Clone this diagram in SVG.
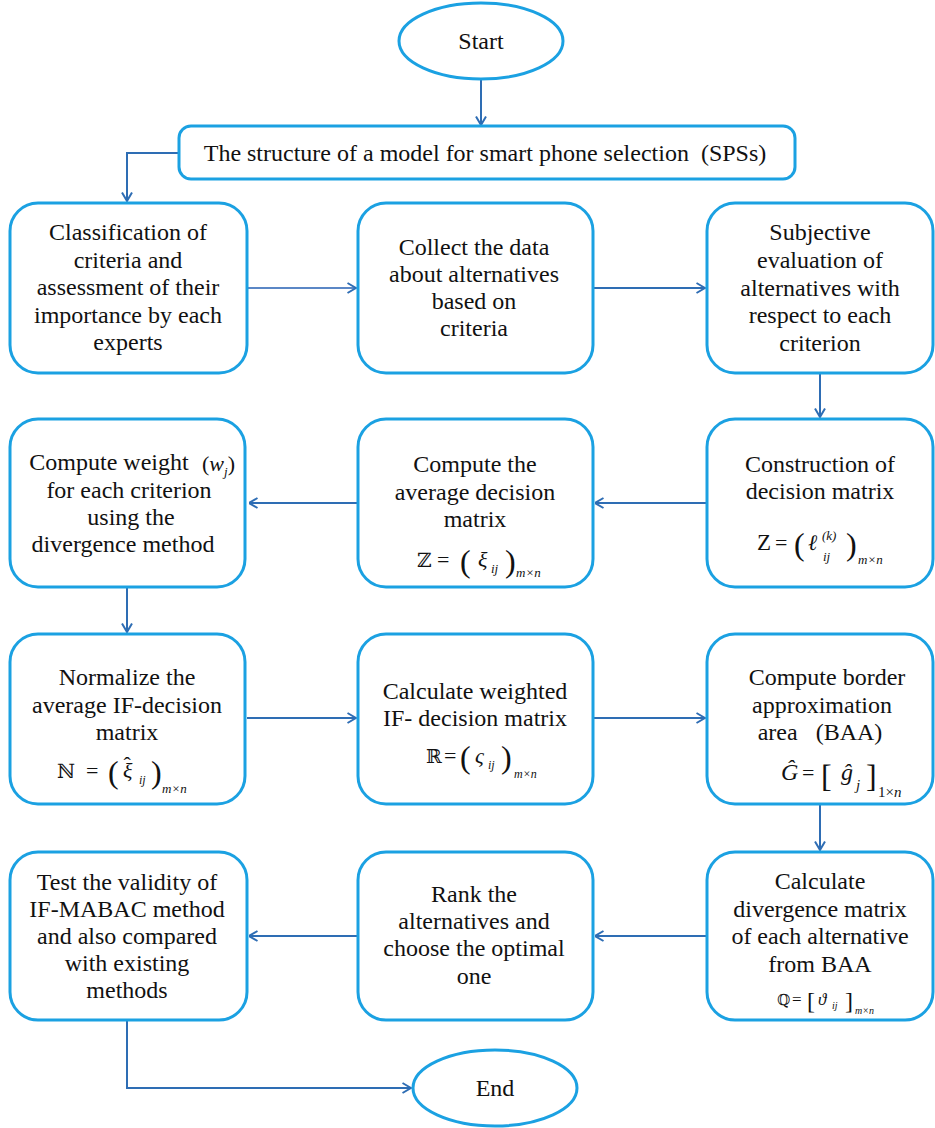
<svg xmlns="http://www.w3.org/2000/svg" width="935" height="1128" viewBox="0 0 935 1128">
<style>
.box{fill:#fff;stroke:#1ba1e2;stroke-width:3}
.t{font-family:'Liberation Serif','Times New Roman',serif;font-size:24px;fill:#111;text-anchor:middle}
.m{font-family:'Liberation Serif','Times New Roman',serif;font-size:22px;fill:#111}
.ds{font-family:'DejaVu Serif','Liberation Serif',serif;font-size:20px;fill:#111}
.i{font-style:italic}
.p{font-size:32px}
.s{font-size:13px;font-style:italic}
.c{fill:none;stroke:#2e6db4;stroke-width:2;marker-end:url(#ah)}
</style>
<defs>
<marker id="ah" viewBox="0 0 10 12" refX="9.5" refY="6" markerWidth="10" markerHeight="12" markerUnits="userSpaceOnUse" orient="auto">
<path d="M1,1 L9.5,6 L1,11" fill="none" stroke="#2e6db4" stroke-width="2"/>
</marker>
</defs>
<rect width="935" height="1128" fill="#fff"/>

<g id="connectors">
<path class="c" d="M481 79 V125"/>
<path class="c" d="M179 153 H127 V201"/>
<path class="c" d="M247 288 H356" style="stroke:#5b87c6"/>
<path class="c" d="M593 288 H705"/>
<path class="c" d="M820 373 V417"/>
<path class="c" d="M707 503 H595"/>
<path class="c" d="M358 503 H249"/>
<path class="c" d="M127 587 V632"/>
<path class="c" d="M247 718 H356"/>
<path class="c" d="M593 718 H705"/>
<path class="c" d="M820 804 V850"/>
<path class="c" d="M707 936 H595"/>
<path class="c" d="M358 936 H249"/>
<path class="c" d="M127 1020 V1088 H411"/>
</g>

<g id="start">
<ellipse class="box" cx="481" cy="41" rx="82" ry="38"/>
<text class="t" x="481" y="49">Start</text>
</g>

<g id="structure">
<rect class="box" x="179" y="126" width="616" height="53" rx="12"/>
<text class="t" x="485" y="161" style="white-space:pre">The structure of a model for smart phone selection  (SPSs)</text>
</g>

<g id="classification">
<rect class="box" x="10" y="203" width="237" height="170" rx="28"/>
<text class="t" x="128" y="240">Classification of</text>
<text class="t" x="128" y="268">criteria and</text>
<text class="t" x="128" y="295">assessment of their</text>
<text class="t" x="128" y="323">importance by each</text>
<text class="t" x="128" y="350">experts</text>
</g>

<g id="collect">
<rect class="box" x="358" y="203" width="235" height="170" rx="28"/>
<text class="t" x="474" y="255">Collect the data</text>
<text class="t" x="474" y="282">about alternatives</text>
<text class="t" x="474" y="309">based on</text>
<text class="t" x="474" y="336">criteria</text>
</g>

<g id="subjective">
<rect class="box" x="707" y="203" width="226" height="170" rx="28"/>
<text class="t" x="820" y="240">Subjective</text>
<text class="t" x="820" y="268">evaluation of</text>
<text class="t" x="820" y="296">alternatives with</text>
<text class="t" x="820" y="323">respect to each</text>
<text class="t" x="820" y="351">criterion</text>
</g>

<g id="weight">
<rect class="box" x="10" y="419" width="235" height="168" rx="28"/>
<text class="t" x="109" y="470">Compute weight</text>
<text class="m" x="202" y="471">(<tspan class="i">w</tspan><tspan class="s" dy="5">j</tspan><tspan dy="-5">)</tspan></text>
<text class="t" x="129" y="498">for each criterion</text>
<text class="t" x="131" y="525">using the</text>
<text class="t" x="123" y="552">divergence method</text>
</g>

<g id="average">
<rect class="box" x="358" y="419" width="235" height="168" rx="28"/>
<text class="t" x="475" y="472">Compute the</text>
<text class="t" x="475" y="500">average decision</text>
<text class="t" x="475" y="527">matrix</text>
<text class="ds" x="417" y="567">ℤ</text>
<text class="m" x="437" y="567">=</text>
<text class="m p" x="460" y="572">(</text>
<text class="m i" x="478" y="567">ξ</text>
<text class="m s" x="491" y="573">ij</text>
<text class="m p" x="505" y="572">)</text>
<text class="m s" x="516" y="577">m×n</text>
</g>

<g id="construction">
<rect class="box" x="707" y="419" width="226" height="168" rx="28"/>
<text class="t" x="820" y="472">Construction of</text>
<text class="t" x="820" y="499">decision matrix</text>
<text class="m" x="757" y="550" style="font-size:23px">Z</text>
<text class="m" x="775" y="550">=</text>
<text class="m p" x="794" y="555">(</text>
<text class="m i" x="808" y="550">ℓ</text>
<text class="m s" x="822" y="540">(k)</text>
<text class="m s" x="823" y="561">ij</text>
<text class="m p" x="846" y="555">)</text>
<text class="m s" x="858" y="564">m×n</text>
</g>

<g id="normalize">
<rect class="box" x="10" y="634" width="235" height="170" rx="28"/>
<text class="t" x="127" y="685">Normalize the</text>
<text class="t" x="127" y="713">average IF-decision</text>
<text class="t" x="127" y="740">matrix</text>
<text class="ds" x="57" y="778">ℕ</text>
<text class="m" x="86" y="778">=</text>
<text class="m p" x="108" y="783">(</text>
<text class="m i" x="123" y="778">ξ<tspan dx="-9" dy="-6" style="font-style:normal">ˆ</tspan></text>
<text class="m s" x="139" y="784" style="font-size:12px">ij</text>
<text class="m p" x="151" y="783">)</text>
<text class="m s" x="162" y="793">m×n</text>
</g>

<g id="weighted">
<rect class="box" x="358" y="634" width="235" height="170" rx="28"/>
<text class="t" x="475" y="699">Calculate weighted</text>
<text class="t" x="475" y="726">IF- decision matrix</text>
<text class="ds" x="426" y="763" style="font-size:19px">ℝ</text>
<text class="m" x="444" y="763">=</text>
<text class="m p" x="460" y="768">(</text>
<text class="m i" x="475" y="763">ς</text>
<text class="m s" x="488" y="769" style="font-size:12px">ij</text>
<text class="m p" x="501" y="768">)</text>
<text class="m s" x="514" y="778" style="font-size:12px">m×n</text>
</g>

<g id="border">
<rect class="box" x="707" y="634" width="226" height="170" rx="28"/>
<text class="t" x="827" y="685">Compute border</text>
<text class="t" x="822" y="713">approximation</text>
<text class="t" x="820" y="740" style="white-space:pre">area   (BAA)</text>
<text class="m i" x="781" y="780" style="font-size:24px">Ĝ</text>
<text class="m" x="802" y="780">=</text>
<text class="m p" x="821" y="787">[</text>
<text class="m i" x="841" y="780" style="font-size:24px">ĝ</text>
<text class="m s" x="856" y="790" style="font-size:15px">j</text>
<text class="m p" x="866" y="787">]</text>
<text class="m" x="878" y="797" style="font-size:15px">1×<tspan class="i">n</tspan></text>
</g>

<g id="test">
<rect class="box" x="10" y="852" width="237" height="168" rx="28"/>
<text class="t" x="127" y="890">Test the validity of</text>
<text class="t" x="127" y="917">IF-MABAC method</text>
<text class="t" x="127" y="944">and also compared</text>
<text class="t" x="127" y="971">with existing</text>
<text class="t" x="127" y="998">methods</text>
</g>

<g id="rank">
<rect class="box" x="358" y="852" width="235" height="168" rx="28"/>
<text class="t" x="474" y="902">Rank the</text>
<text class="t" x="474" y="929">alternatives and</text>
<text class="t" x="474" y="956">choose the optimal</text>
<text class="t" x="474" y="984">one</text>
</g>

<g id="divergence">
<rect class="box" x="707" y="852" width="226" height="168" rx="28"/>
<text class="t" x="820" y="889">Calculate</text>
<text class="t" x="820" y="917">divergence matrix</text>
<text class="t" x="820" y="944">of each alternative</text>
<text class="t" x="820" y="972">from BAA</text>
<text class="ds" x="777" y="1005" style="font-size:15px">ℚ</text>
<text class="m" x="792" y="1005" style="font-size:17px">=</text>
<text class="m" x="807" y="1009" style="font-size:24px">[</text>
<text class="m i" x="818" y="1005" style="font-size:17px">ϑ</text>
<text class="m s" x="832" y="1009" style="font-size:10px">ij</text>
<text class="m" x="845" y="1009" style="font-size:24px">]</text>
<text class="m s" x="855" y="1014" style="font-size:10px">m×n</text>
</g>

<g id="end">
<ellipse class="box" cx="495" cy="1088" rx="82" ry="38"/>
<text class="t" x="495" y="1096">End</text>
</g>
</svg>
